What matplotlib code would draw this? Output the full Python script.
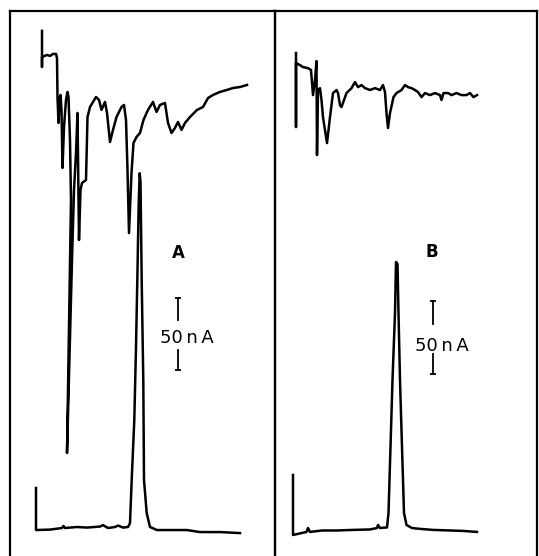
import matplotlib
matplotlib.use("Agg")
import matplotlib.pyplot as plt

# ---- panel A, upper trace (time in min, current in nA relative to start level)
a_top_t = [0, 0, 0, 0.5, 0.8, 1.1, 1.4, 1.5, 1.55, 1.65, 1.75, 1.85, 1.95, 2.05, 2.2,
           2.4, 2.55, 2.65, 2.8, 2.9, 2.5, 3.0, 3.2, 3.4, 3.55, 3.7, 3.85, 4.0, 4.4,
           4.55, 4.8, 5.4, 5.7, 5.95, 6.3, 6.5, 6.8, 7.1, 7.45, 7.95, 8.2, 8.4, 8.55,
           8.7, 8.95, 9.15, 9.45, 9.8, 10.15, 10.6, 11.1, 11.45, 11.8, 12.3, 12.6,
           12.95, 13.3, 13.6, 13.95, 14.3, 14.8, 15.5, 16.1, 16.6, 17.1, 17.8, 18.5,
           19.1, 19.8, 20.5]
a_top_i = [16.6, -8.3, -1.4, 0, -0.7, 0.7, 0.7, -2.1, -29, -46.9, -31, -27.6, -37.9,
           -77.9, -49.7, -31, -25.5, -29, -58.6, -100, -274.5, -141.4, -93.1, -67.6,
           -40, -127.6, -93.1, -88.3, -86.2, -42.8, -35.9, -29, -31, -37.9, -32.4,
           -40, -60, -51.7, -42.8, -35.9, -34.5, -44.8, -79.3, -122.8, -81.4, -60.7,
           -56.6, -53.8, -44.8, -37.9, -32.4, -39.3, -34.5, -33.1, -46.9, -53.8,
           -50.3, -46.2, -51.7, -46.9, -42.8, -37.9, -35.9, -29.7, -27.6, -25.5,
           -24.1, -22.8, -22.1, -20.7]

# ---- panel A, lower trace
a_bot_t = [0, 0, 1.4, 2.6, 2.75, 2.9, 4.1, 5.1, 6.4, 6.7, 7.2, 7.9, 8.2, 8.7, 9.2,
           9.4, 9.57, 9.83, 10.0, 10.13, 10.27, 10.37, 10.45, 10.57, 10.73, 10.8,
           11.07, 11.4, 12.1, 13.7, 15.1, 16.4, 18.4, 20.4]
a_bot_i = [29, 0, 0.3, 1.4, 2.8, 1.4, 2.1, 1.7, 2.4, 3.4, 1.4, 2.1, 3.1, 1.7, 2.1,
           4.8, 34.5, 75.9, 126, 172, 225, 246, 240, 172, 103, 34.5, 11.7, 2.1, 0,
           0, 0, -1.4, -1.4, -2.1]

# ---- panel B, upper trace
b_top_t = [0, 0, 0, 0.4, 0.7, 1.2, 1.5, 1.7, 1.9, 2.05, 2.1, 2.2, 2.4, 2.55, 2.7,
           3.1, 3.4, 3.7, 4.05, 4.2, 4.4, 4.55, 4.8, 5.05, 5.55, 5.9, 6.2, 6.55,
           6.9, 7.4, 7.9, 8.4, 8.7, 8.9, 9.05, 9.2, 9.4, 9.75, 10.05, 10.55, 10.9,
           11.2, 11.55, 11.9, 12.2, 12.55, 12.9, 13.4, 13.9, 14.4, 14.55, 14.75,
           15.2, 15.55, 16.05, 16.55, 17.05, 17.4, 17.75, 18.1]
b_top_i = [7.6, -43.4, 0.7, -0.7, -2.1, -2.8, -4.1, -21.4, -11, 2.1, -62.8, -17.9,
           -16.6, -24.8, -36.6, -54.5, -36.6, -20, -17.9, -20, -28.3, -29.7, -24.8,
           -20, -16.6, -12.4, -15.9, -14.5, -16.6, -17.9, -16.6, -17.9, -14.5,
           -19.3, -33.8, -44.1, -33.8, -22.8, -20, -17.9, -14.5, -15.9, -16.6,
           -17.9, -19.3, -22.8, -20, -21.4, -20, -21.4, -24.8, -20, -20, -21.4,
           -20, -21.4, -21.4, -20, -22.8, -21.4]

# ---- panel B, lower trace
b_bot_t = [0, 0, 1.35, 1.5, 1.7, 2.9, 4.4, 6.0, 7.7, 8.4, 8.5, 8.7, 9.4, 9.55,
           9.75, 9.95, 10.2, 10.3, 10.45, 10.55, 10.7, 10.9, 11.1, 11.35, 11.9,
           12.7, 14.0, 15.7, 17.0, 18.4]
b_bot_i = [40, -1.4, 0.7, 3.4, 0.7, 1.7, 1.7, 2.1, 2.4, 3.4, 5.5, 3.4, 3.8, 13.8,
           59.3, 105.5, 151.7, 186.9, 185.5, 151.7, 105.5, 59.3, 13.8, 5.5, 3.4,
           2.8, 2.1, 1.7, 1.4, 0.7]

labels = ["A", "B"]
scale_na = 50

W, H = 539, 556
fig = plt.figure(figsize=(W / 100, H / 100), dpi=100)
fig.patch.set_facecolor("white")

top_px = 11
lw = 1.8

panels = [
    dict(px=(10, 275), xlim=(-2.6, 23.9), ylim=(-17.9, 357.9),
         top=(a_top_t, a_top_i), bot=(a_bot_t, a_bot_i), off=(0.6, 327.6),
         bar_t=14.2, bar_lo=110.3, txt=(15.1, 132.4), lab=(14.2, 191)),
    dict(px=(275, 537), xlim=(-1.8, 24.4), ylim=(-15.9, 360.0),
         top=(b_top_t, b_top_i), bot=(b_bot_t, b_bot_i), off=(0.3, 323.4),
         bar_t=14.0, bar_lo=109.7, txt=(14.9, 129.0), lab=(13.9, 193.8)),
]

for k, p in enumerate(panels):
    x0, x1 = p["px"]
    ax = fig.add_axes([x0 / W, 0, (x1 - x0) / W, (H - top_px) / H])
    ax.set_xlim(*p["xlim"])
    ax.set_ylim(*p["ylim"])
    ax.set_xticks([])
    ax.set_yticks([])
    ax.patch.set_alpha(0)
    ax.spines["bottom"].set_visible(False)
    for s in ["left", "right", "top"]:
        ax.spines[s].set_linewidth(1.6)
        ax.spines[s].set_color("black")

    tt, ti = p["top"]
    dt, di = p["off"]
    ax.plot([t + dt for t in tt], [i + di for i in ti], color="black", lw=lw)
    bt, bi = p["bot"]
    ax.plot(bt, bi, color="black", lw=lw)

    # 50 nA scale bar, split around the text
    lo = p["bar_lo"]
    hi = lo + scale_na
    ax.plot([p["bar_t"]] * 2, [hi, hi - 15.5], color="black", lw=1.3)
    ax.plot([p["bar_t"]] * 2, [lo, lo + 14], color="black", lw=1.3)
    ax.plot([p["bar_t"]] * 2, [lo, hi], ls="none", marker="_", ms=5, mew=1.3, color="black")
    ax.text(p["txt"][0], p["txt"][1], "50\u2009n\u2009A", ha="center", va="center",
            fontsize=13)
    ax.text(p["lab"][0], p["lab"][1], labels[k], ha="center", va="center",
            fontsize=12, fontweight="bold")

plt.savefig("out.png", dpi=100)
